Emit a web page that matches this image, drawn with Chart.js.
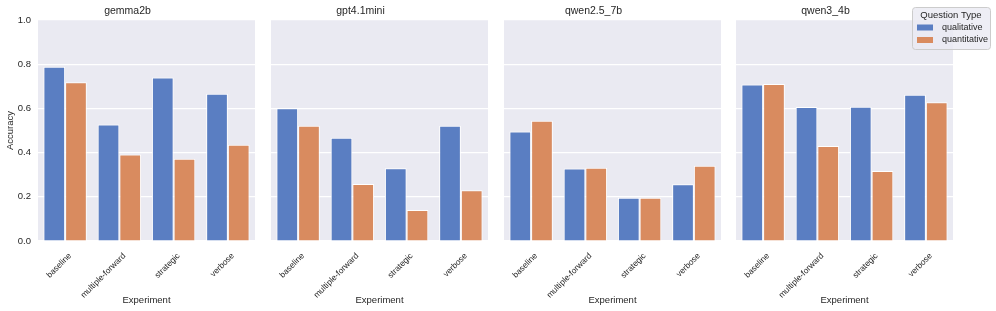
<!DOCTYPE html>
<html>
<head>
<meta charset="utf-8">
<script src="https://cdn.jsdelivr.net/npm/chart.js@4.4.1/dist/chart.umd.min.js"></script>
<style>
  html, body { margin: 0; padding: 0; background: #ffffff; }
  #wrap { position: relative; width: 996px; height: 311px; overflow: hidden; }
  #wrap canvas { position: absolute; top: 0; }
</style>
</head>
<body>
<div id="wrap"></div>
<script>
// Données (une ligne par modèle)
const models = ["gemma2b", "gpt4.1mini", "qwen2.5_7b", "qwen3_4b"];
const experiments = ["baseline", "multiple-forward", "strategic", "verbose"];
const questionTypes = ["qualitative", "quantitative"];

const qualitative = [
    [0.789, 0.527, 0.740, 0.666],
    [0.601, 0.467, 0.329, 0.521],
    [0.495, 0.328, 0.196, 0.257],
    [0.708, 0.606, 0.607, 0.662],
];
const quantitative = [
    [0.718, 0.391, 0.372, 0.435],
    [0.521, 0.258, 0.140, 0.230],
    [0.544, 0.331, 0.196, 0.341],
    [0.710, 0.430, 0.317, 0.628],
];
const yTicks = [0, 0.2, 0.4, 0.6, 0.8, 1.0];

const COLORS = ["#5a7ec2", "#d98b5f"];
const INK = "#262626";
const FONT = "'Liberation Sans', Arial, sans-serif";

const plotLefts = [38, 271, 504, 736];
const plotWidth = 217;
const axisWidth = 38;
const canvasHeight = 311;

const panelBackground = {
    id: "panelBackground",
    beforeDraw(chart) {
        const { ctx, chartArea: a } = chart;
        ctx.save();
        ctx.fillStyle = "#eaeaf2";
        ctx.fillRect(a.left, a.top, a.right - a.left, a.bottom - a.top);
        ctx.restore();
    },
};

// Légende "Question Type" dessinée dans le coin du dernier panneau
const questionLegend = {
    id: "questionLegend",
    afterDraw(chart) {
        const ctx = chart.ctx;
        const x = chart.width - 84, y = 7, w = 78, h = 42;
        ctx.save();
        ctx.beginPath();
        ctx.roundRect(x + 0.5, y + 0.5, w, h, 3);
        ctx.fillStyle = "rgba(234, 234, 242, 0.8)";
        ctx.fill();
        ctx.strokeStyle = "#cccccc";
        ctx.lineWidth = 1;
        ctx.stroke();

        ctx.fillStyle = INK;
        ctx.textBaseline = "middle";
        ctx.textAlign = "center";
        ctx.font = "9.5px " + FONT;
        ctx.fillText("Question Type", x + w / 2, y + 8.5);

        ctx.textAlign = "left";
        ctx.font = "9px " + FONT;
        chart.data.datasets.forEach((ds, i) => {
            const rowY = y + 20.5 + i * 12.5;
            ctx.fillStyle = ds.backgroundColor;
            ctx.fillRect(x + 5, rowY - 3, 16, 6);
            ctx.fillStyle = INK;
            ctx.fillText(ds.label, x + 30, rowY);
        });
        ctx.restore();
    },
};

function buildPanel(index) {
    const isFirst = index === 0;
    const isLast = index === models.length - 1;
    const rightPad = isLast ? 996 - (plotLefts[index] + plotWidth) : 0;

    const canvas = document.createElement("canvas");
    const width = axisWidth + plotWidth + rightPad;
    canvas.width = width;
    canvas.height = canvasHeight;
    canvas.style.width = width + "px";
    canvas.style.height = canvasHeight + "px";
    canvas.style.left = (plotLefts[index] - axisWidth) + "px";
    document.getElementById("wrap").appendChild(canvas);

    new Chart(canvas.getContext("2d"), {
        type: "bar",
        data: {
            labels: experiments,
            datasets: [
                { label: questionTypes[0], data: qualitative[index], backgroundColor: COLORS[0] },
                { label: questionTypes[1], data: quantitative[index], backgroundColor: COLORS[1] },
            ].map(ds => Object.assign(ds, {
                borderColor: "#ffffff",
                borderWidth: 1,
                categoryPercentage: 0.8,
                barPercentage: 1.0,
            })),
        },
        options: {
            responsive: false,
            animation: false,
            devicePixelRatio: 1,
            layout: { padding: { left: 0, right: rightPad, top: 0, bottom: 0 } },
            plugins: {
                legend: { display: false },
                tooltip: { enabled: false },
                title: {
                    display: true,
                    text: models[index],
                    color: INK,
                    font: { family: FONT, size: 10.5, weight: "normal" },
                    padding: { top: 5, bottom: 2.4 },
                },
            },
            scales: {
                x: {
                    offset: true,
                    grid: { display: false },
                    border: { display: false },
                    ticks: {
                        color: INK,
                        font: { family: FONT, size: 8.4 },
                        minRotation: 45,
                        maxRotation: 45,
                        padding: 2,
                        labelOffset: 5,
                        autoSkip: false,
                    },
                    title: {
                        display: true,
                        text: "Experiment",
                        color: INK,
                        font: { family: FONT, size: 9.5 },
                        padding: { top: 0, bottom: 5 },
                    },
                    afterFit: (scale) => { scale.height = 70; },
                },
                y: {
                    min: 0,
                    max: 1,
                    grid: { color: "#ffffff", lineWidth: 1.2, drawTicks: false },
                    border: { display: false },
                    afterBuildTicks: (scale) => { scale.ticks = yTicks.map(v => ({ value: v })); },
                    ticks: {
                        display: isFirst,
                        color: INK,
                        font: { family: FONT, size: 9.5 },
                        padding: 7,
                        callback: (v) => Number(v).toFixed(1),
                    },
                    title: {
                        display: isFirst,
                        text: "Accuracy",
                        color: INK,
                        font: { family: FONT, size: 9.5 },
                        padding: { top: 5, bottom: 0 },
                    },
                    afterFit: (scale) => { scale.width = axisWidth; },
                },
            },
        },
        plugins: isLast ? [panelBackground, questionLegend] : [panelBackground],
    });
}

document.addEventListener("DOMContentLoaded", () => {
    models.forEach((m, i) => buildPanel(i));
});
</script>
</body>
</html>
